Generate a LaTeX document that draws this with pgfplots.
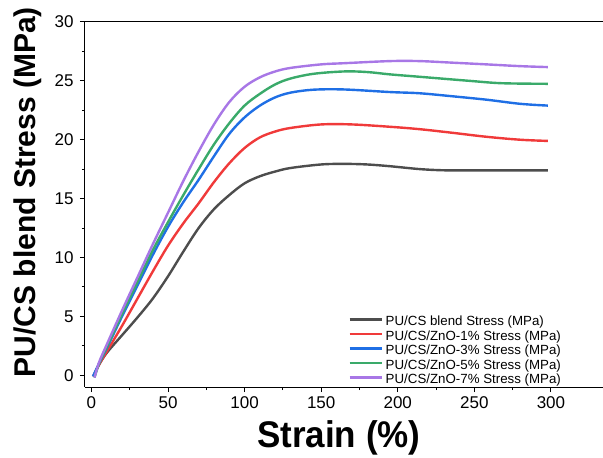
\documentclass[border=0pt]{standalone}
\usepackage{pgfplots}
\pgfplotsset{compat=1.18}
\usepackage{fontspec}
\setmainfont{Liberation Sans}
\usetikzlibrary{calc}
\definecolor{cgray}{HTML}{4D4D4D}
\definecolor{cred}{HTML}{F03A3A}
\definecolor{cblue}{HTML}{1F6FE5}
\definecolor{cgreen}{HTML}{3AAA6A}
\definecolor{cpurple}{HTML}{A877E6}
\begin{document}
\begin{tikzpicture}
\begin{axis}[name=ax, scale only axis, width=518pt, height=365pt,
  xmin=-4.2, xmax=334, ymin=-1, ymax=30,
  axis x line=box, axis y line=left,
  axis line style={-, line width=1pt, black},
  xtick={0,50,...,300}, ytick={0,5,...,30}, minor tick num=1,
  xtick pos=left, ytick pos=left,
  tick align=outside, major tick length=5pt, minor tick length=3pt,
  tick style={black, line width=1pt},
  ticklabel style={font=\fontsize{17}{20}\selectfont},
  yticklabel style={xshift=-3pt},
  xticklabel style={yshift=-1pt},
  /pgf/number format/assume math mode=true,
  xlabel={\fontsize{35}{40}\selectfont\scalebox{1}[1.06]{\bfseries Strain (\%)}},
  xlabel style={at={(axis description cs:0.49,-0.167)}, anchor=base, inner sep=0pt},
  ylabel={PU/CS blend Stress (MPa)},
  ylabel style={font=\fontsize{30}{36}\selectfont\bfseries, at={(axis description cs:-0.1371,0.534)}, anchor=north, inner sep=0pt},
  legend style={at={(axis description cs:0.502,0.2014)}, anchor=north west, draw=none, fill=none,
    font=\fontsize{13.3}{15}\selectfont,
    nodes={inner sep=0pt, text height=10pt, text depth=3.5pt}, row sep=1pt},
  legend cell align=left,
  legend image code/.code={\draw[#1, line width=2.6pt] (0pt,0.3em) -- (32pt,0.3em); \path (35pt,0.3em);},
  every axis plot/.append style={line width=2.4pt, smooth, tension=0.55},
]
\addplot[cgray] coordinates {(1.2,-0.1) (5,0.9) (10,1.9) (20,3.4) (30,4.9) (40,6.5) (50,8.4) (60,10.5) (70,12.5) (80,14.1) (90,15.3) (100,16.3) (110,16.9) (120,17.3) (130,17.6) (150,17.9) (165,17.95) (180,17.9) (195,17.75) (215,17.5) (232,17.4) (255,17.4) (275,17.4) (298,17.4)};
\addlegendentry{PU/CS blend Stress (MPa)}
\addplot[cred] coordinates {(1.2,-0.1) (5,0.9) (10,2.0) (20,4.2) (30,6.5) (40,8.8) (50,11.0) (60,12.9) (70,14.6) (80,16.4) (90,18.0) (100,19.3) (110,20.2) (120,20.7) (130,21.0) (150,21.3) (170,21.3) (195,21.1) (214,20.9) (235,20.6) (258,20.25) (280,20.0) (298,19.9)};
\addlegendentry{PU/CS/ZnO-1\% Stress (MPa)}
\addplot[cblue] coordinates {(1,-0.1) (5,1.0) (10,2.3) (20,5.0) (30,7.6) (40,10.2) (50,12.6) (60,14.7) (70,16.6) (80,18.6) (90,20.5) (100,21.9) (110,22.9) (120,23.6) (130,24.0) (145,24.25) (165,24.27) (195,24.05) (214,23.95) (235,23.7) (258,23.4) (280,23.05) (298,22.9)};
\addlegendentry{PU/CS/ZnO-3\% Stress (MPa)}
\addplot[cgreen] coordinates {(2,-0.2) (5,1.0) (10,2.4) (20,5.2) (30,7.9) (40,10.6) (50,13.0) (60,15.3) (70,17.5) (80,19.6) (90,21.4) (100,22.9) (110,23.9) (120,24.7) (130,25.2) (145,25.6) (165,25.8) (180,25.75) (195,25.55) (214,25.35) (247,25.0) (268,24.8) (298,24.75)};
\addlegendentry{PU/CS/ZnO-5\% Stress (MPa)}
\addplot[cpurple] coordinates {(2,-0.2) (5,1.1) (10,2.6) (20,5.5) (30,8.3) (40,11.1) (50,13.8) (60,16.5) (70,19.0) (80,21.3) (90,23.2) (100,24.5) (110,25.3) (120,25.8) (130,26.1) (150,26.4) (165,26.5) (195,26.68) (214,26.68) (235,26.55) (258,26.4) (280,26.25) (298,26.17)};
\addlegendentry{PU/CS/ZnO-7\% Stress (MPa)}
\end{axis}
\pgfresetboundingbox
\path[use as bounding box] ($(ax.south west)+(-85pt,-70pt)$) rectangle ($(ax.north east)+(0pt,22pt)$);
\end{tikzpicture}
\end{document}
